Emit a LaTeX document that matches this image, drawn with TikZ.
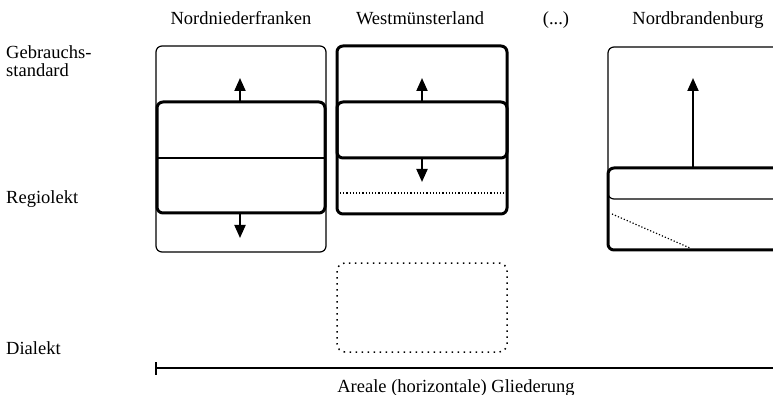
\documentclass[tikz,border=0pt]{standalone}
\usepackage{fontspec}
\setmainfont{Liberation Serif}
\usetikzlibrary{arrows.meta}
\begin{document}
\begin{tikzpicture}[x=1pt,y=-1pt,
  lbl/.style={inner sep=0pt,font=\fontsize{18.5}{18}\selectfont},
  thinbox/.style={line width=1.2pt,rounded corners=6pt},
  thickbox/.style={line width=3pt,rounded corners=6pt},
  dotline/.style={line width=1.2pt,dotted},
  dotbox/.style={line width=1.5pt,dash pattern=on 1.5pt off 4.5pt,rounded corners=8pt},
  levelarrow/.style={line width=2pt,-{Triangle[width=11pt,length=13pt]}}]
\useasboundingbox (0,0) rectangle (773,395);
\clip (0,0) rectangle (773,395);

% column headings
\node[lbl,anchor=base] (h1) at (241,25) {Nordniederfranken};
\node[lbl,anchor=base] (h2) at (420,25) {Westmünsterland};
\node[lbl,anchor=base] (h3) at (556,25) {(...)};
\node[lbl,anchor=base] (h4) at (698,25) {Nordbrandenburg};

% vertical levels
\node[lbl,anchor=base west] (l1a) at (6,59) {Gebrauchs-};
\node[lbl,anchor=base west] (l1b) at (6,77) {standard};
\node[lbl,anchor=base west] (l2) at (6,204) {Regiolekt};
\node[lbl,anchor=base west] (l3) at (6,354) {Dialekt};

% Nordniederfranken: range widening in both directions
\draw[thinbox] (156,46) rectangle (326,252);
\draw[line width=1.6pt] (157,158) -- (325,158);
\draw[thickbox] (157,102) rectangle (325,213);
\coordinate (a1) at (240,102);
\coordinate (a1t) at (240,78);
\coordinate (b1) at (240,213);
\coordinate (b1t) at (240,238);
\draw[levelarrow] (a1) -- (a1t);
\draw[levelarrow] (b1) -- (b1t);

% Westmünsterland
\draw[thickbox] (337,46) rectangle (507,214);
\draw[thickbox] (337,102) rectangle (507,158);
\draw[dotline] (340,193) -- (506,193);
\coordinate (a2) at (422,102);
\coordinate (a2t) at (422,78);
\coordinate (b2) at (422,158);
\coordinate (b2t) at (422,182);
\draw[levelarrow] (a2) -- (a2t);
\draw[levelarrow] (b2) -- (b2t);
\draw[dotbox] (337,263) rectangle (507,352);

% Nordbrandenburg
\draw[thinbox] (608,47) rectangle (800,250);
\draw[thinbox] (608,168) rectangle (800,199);
\draw[thickbox] (608,168) rectangle (800,250);
\draw[dotline] (612,214) -- (690,248);
\coordinate (a3) at (693,168);
\coordinate (a3t) at (693,78);
\draw[levelarrow] (a3) -- (a3t);

% areal axis
\coordinate (ax0) at (156,368);
\coordinate (ax1) at (773,368);
\draw[line width=1.3pt] (ax0) -- (ax1);
\draw[line width=1.3pt] (156,362) -- (156,375);
\node[lbl,anchor=base] (ax) at (456,392) {Areale (horizontale) Gliederung};
\end{tikzpicture}
\end{document}
